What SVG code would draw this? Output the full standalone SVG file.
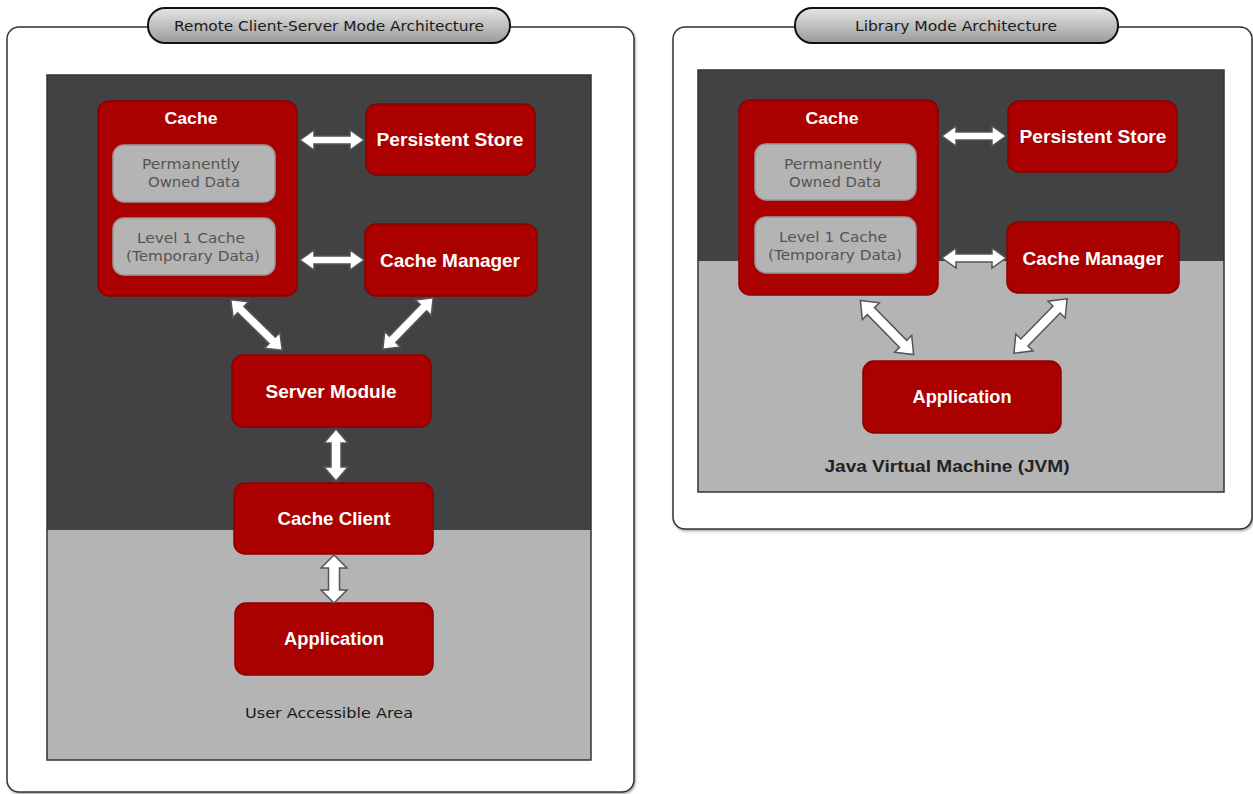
<svg xmlns="http://www.w3.org/2000/svg" width="1253" height="794" viewBox="0 0 1253 794">
<defs>
<linearGradient id="pill" x1="0" y1="0" x2="0" y2="1">
<stop offset="0" stop-color="#e6e6e6"/>
<stop offset="1" stop-color="#9a9a9a"/>
</linearGradient>
<filter id="sh" x="-10%" y="-10%" width="130%" height="130%">
<feDropShadow dx="1" dy="1.5" stdDeviation="1.2" flood-color="#000" flood-opacity="0.35"/>
</filter>
</defs>
<style>
.panel{fill:#fff;stroke:#333;stroke-width:1.5}
.pill{fill:url(#pill);stroke:#111;stroke-width:2}
.ptxt{font-family:"DejaVu Sans",sans-serif;font-size:14px;fill:#1a1a1a;text-anchor:middle}
.dark{fill:#424242}
.light{fill:#b4b4b4}
.frame{fill:none;stroke:#333;stroke-width:1.5}
.red{fill:#aa0000;stroke:#8c0000;stroke-width:1.5}
.gray{fill:#b4b4b4;stroke:#999;stroke-width:1.5}
.wt{font-family:"Liberation Sans",Arial,sans-serif;font-weight:bold;fill:#fff;text-anchor:middle}
.gt{font-family:"DejaVu Sans",sans-serif;font-size:14px;fill:#555;text-anchor:middle}
.bt{font-family:"DejaVu Sans",sans-serif;font-size:14px;fill:#1a1a1a;text-anchor:middle}
.jt{font-family:"Liberation Sans",Arial,sans-serif;font-weight:bold;font-size:17px;fill:#222;text-anchor:middle}
.arr{fill:#fff;stroke:#555;stroke-width:1.5;stroke-linejoin:miter}
</style>

<!-- Left panel -->
<g id="left-panel">
<rect class="panel" x="7" y="27" width="627" height="765" rx="12" filter="url(#sh)"/>
<rect class="dark" x="47" y="75" width="544" height="455"/>
<rect class="light" x="47" y="530" width="544" height="230"/>
<rect class="frame" x="47" y="75" width="544" height="685"/>
<text class="bt" x="329" y="718" textLength="168" lengthAdjust="spacingAndGlyphs">User Accessible Area</text>
</g>
<g id="left-title">
<rect class="pill" x="148" y="8" width="362" height="35" rx="17"/>
<text class="ptxt" x="329" y="31" textLength="310" lengthAdjust="spacingAndGlyphs">Remote Client-Server Mode Architecture</text>
</g>

<!-- Right panel -->
<g id="right-panel">
<rect class="panel" x="673" y="27" width="579" height="502" rx="12" filter="url(#sh)"/>
<rect class="dark" x="698" y="70" width="526" height="191"/>
<rect class="light" x="698" y="261" width="526" height="231"/>
<rect class="frame" x="698" y="70" width="526" height="422"/>
<text class="jt" x="947" y="472" textLength="245" lengthAdjust="spacingAndGlyphs">Java Virtual Machine (JVM)</text>
</g>
<g id="right-title">
<rect class="pill" x="795" y="8" width="323" height="35" rx="17"/>
<text class="ptxt" x="956" y="31" textLength="202" lengthAdjust="spacingAndGlyphs">Library Mode Architecture</text>
</g>

<!-- Left nodes -->
<g id="l-cache">
<rect class="red" x="98" y="101" width="199" height="195" rx="11"/>
<text class="wt" x="191" y="124" font-size="16" textLength="53" lengthAdjust="spacingAndGlyphs">Cache</text>
</g>
<g id="l-perm">
<rect class="gray" x="113" y="145" width="162" height="57" rx="11"/>
<text class="gt" x="191" y="169" textLength="98" lengthAdjust="spacingAndGlyphs">Permanently</text>
<text class="gt" x="194" y="187" textLength="92" lengthAdjust="spacingAndGlyphs">Owned Data</text>
</g>
<g id="l-l1">
<rect class="gray" x="113" y="218" width="162" height="57" rx="11"/>
<text class="gt" x="191" y="243" textLength="108" lengthAdjust="spacingAndGlyphs">Level 1 Cache</text>
<text class="gt" x="193" y="261" textLength="134" lengthAdjust="spacingAndGlyphs">(Temporary Data)</text>
</g>
<g id="l-store">
<rect class="red" x="366" y="104" width="169" height="71" rx="11"/>
<text class="wt" x="450" y="146" font-size="19" textLength="147" lengthAdjust="spacingAndGlyphs">Persistent Store</text>
</g>
<g id="l-mgr">
<rect class="red" x="365" y="224" width="172" height="72" rx="11"/>
<text class="wt" x="450" y="267" font-size="19" textLength="140" lengthAdjust="spacingAndGlyphs">Cache Manager</text>
</g>
<g id="l-server">
<rect class="red" x="232" y="355" width="199" height="72" rx="11"/>
<text class="wt" x="331" y="398" font-size="19" textLength="131" lengthAdjust="spacingAndGlyphs">Server Module</text>
</g>
<g id="l-client">
<rect class="red" x="234" y="483" width="199" height="71" rx="11"/>
<text class="wt" x="334" y="525" font-size="19" textLength="113" lengthAdjust="spacingAndGlyphs">Cache Client</text>
</g>
<g id="l-app">
<rect class="red" x="235" y="603" width="198" height="72" rx="11"/>
<text class="wt" x="334" y="645" font-size="19" textLength="100" lengthAdjust="spacingAndGlyphs">Application</text>
</g>

<!-- Right nodes -->
<g id="r-cache">
<rect class="red" x="739" y="100" width="199" height="195" rx="11"/>
<text class="wt" x="832" y="124" font-size="16" textLength="53" lengthAdjust="spacingAndGlyphs">Cache</text>
</g>
<g id="r-perm">
<rect class="gray" x="755" y="144" width="161" height="56" rx="11"/>
<text class="gt" x="833" y="169" textLength="98" lengthAdjust="spacingAndGlyphs">Permanently</text>
<text class="gt" x="835" y="187" textLength="92" lengthAdjust="spacingAndGlyphs">Owned Data</text>
</g>
<g id="r-l1">
<rect class="gray" x="755" y="217" width="161" height="56" rx="11"/>
<text class="gt" x="833" y="242" textLength="108" lengthAdjust="spacingAndGlyphs">Level 1 Cache</text>
<text class="gt" x="835" y="260" textLength="134" lengthAdjust="spacingAndGlyphs">(Temporary Data)</text>
</g>
<g id="r-store">
<rect class="red" x="1008" y="101" width="169" height="71" rx="11"/>
<text class="wt" x="1093" y="143" font-size="19" textLength="147" lengthAdjust="spacingAndGlyphs">Persistent Store</text>
</g>
<g id="r-mgr">
<rect class="red" x="1007" y="222" width="172" height="71" rx="11"/>
<text class="wt" x="1093" y="265" font-size="19" textLength="141" lengthAdjust="spacingAndGlyphs">Cache Manager</text>
</g>
<g id="r-app">
<rect class="red" x="863" y="361" width="198" height="72" rx="11"/>
<text class="wt" x="962" y="403" font-size="19" textLength="99" lengthAdjust="spacingAndGlyphs">Application</text>
</g>

<!-- Connectors -->
<g id="connectors">
<path class="arr" transform="translate(332,140)" d="M-32,0 L-18,-10 L-18,-4 L18,-4 L18,-10 L32,0 L18,10 L18,4 L-18,4 L-18,10 Z"/>
<path class="arr" transform="translate(332,260)" d="M-32,0 L-18,-10 L-18,-4 L18,-4 L18,-10 L32,0 L18,10 L18,4 L-18,4 L-18,10 Z"/>
<path class="arr" transform="translate(256.5,325) rotate(44.4)" d="M-36,0 L-22,-11 L-22,-4.5 L22,-4.5 L22,-11 L36,0 L22,11 L22,4.5 L-22,4.5 L-22,11 Z"/>
<path class="arr" transform="translate(408,323.5) rotate(134.4)" d="M-36,0 L-22,-11 L-22,-4.5 L22,-4.5 L22,-11 L36,0 L22,11 L22,4.5 L-22,4.5 L-22,11 Z"/>
<path class="arr" transform="translate(336,455) rotate(90)" d="M-26,0 L-12,-12 L-12,-5 L12,-5 L12,-12 L26,0 L12,12 L12,5 L-12,5 L-12,12 Z"/>
<path class="arr" transform="translate(334,579) rotate(90)" d="M-24,0 L-11,-13 L-11,-5.5 L11,-5.5 L11,-13 L24,0 L11,13 L11,5.5 L-11,5.5 L-11,13 Z"/>
<path class="arr" transform="translate(974,136)" d="M-32,0 L-18,-10 L-18,-4 L18,-4 L18,-10 L32,0 L18,10 L18,4 L-18,4 L-18,10 Z"/>
<path class="arr" transform="translate(974,258)" d="M-32,0 L-18,-10 L-18,-4 L18,-4 L18,-10 L32,0 L18,10 L18,4 L-18,4 L-18,10 Z"/>
<path class="arr" transform="translate(887,327.5) rotate(45.5)" d="M-38,0 L-23,-12 L-23,-5 L23,-5 L23,-12 L38,0 L23,12 L23,5 L-23,5 L-23,12 Z"/>
<path class="arr" transform="translate(1040.5,326) rotate(134.4)" d="M-38,0 L-23,-12 L-23,-5 L23,-5 L23,-12 L38,0 L23,12 L23,5 L-23,5 L-23,12 Z"/>
</g>
</svg>
